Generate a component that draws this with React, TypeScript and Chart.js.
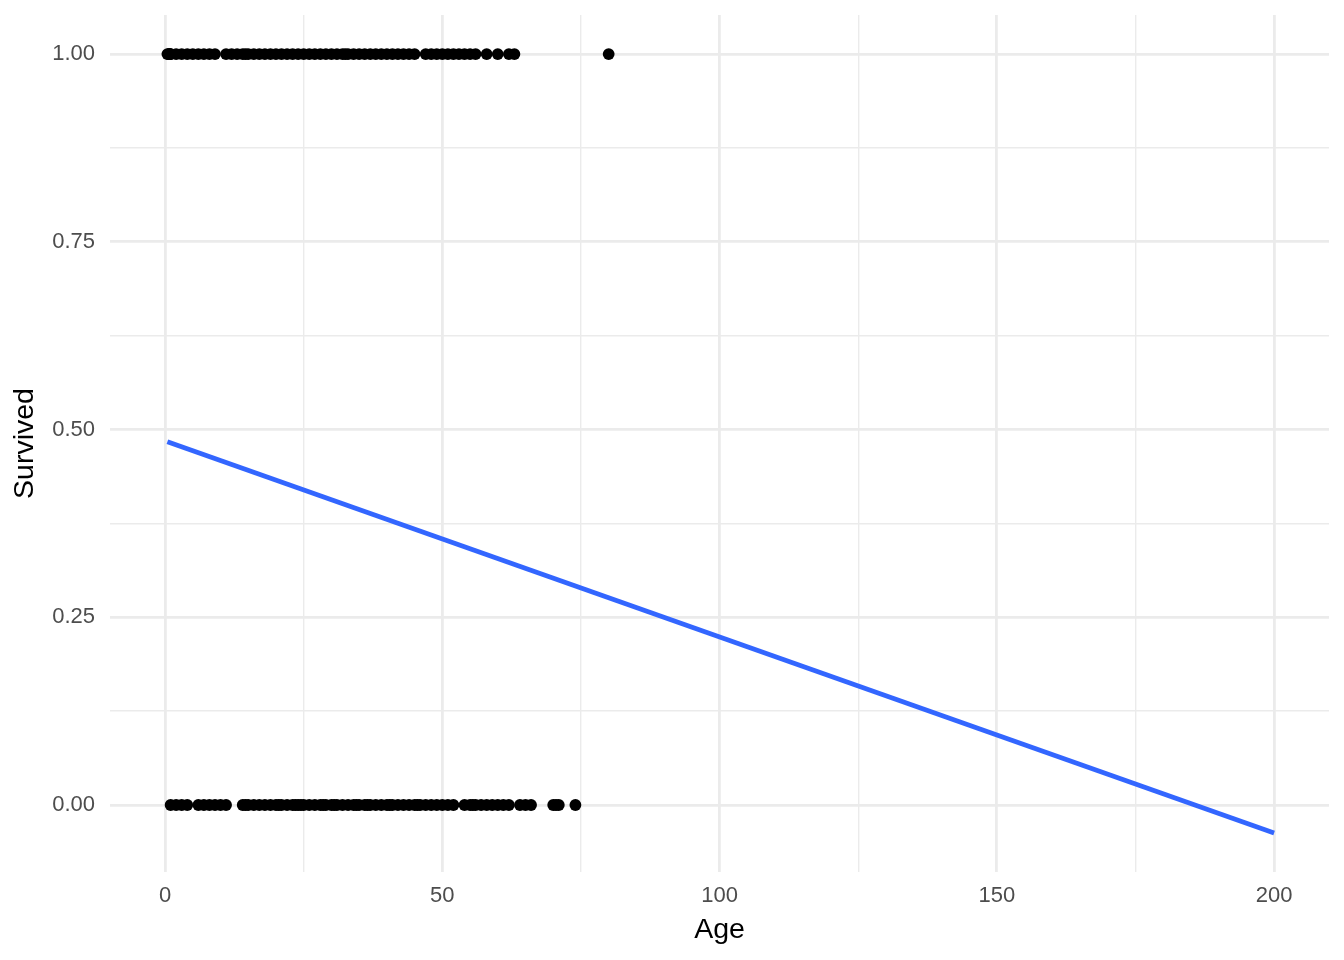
import React, { useEffect, useRef } from "react";
import { Chart, registerables } from "chart.js";

Chart.register(...registerables);

// Ages of passengers who survived (Survived = 1)
const survivedAges: number[] = [
  0.42, 0.67, 0.75, 0.83, 0.92, 1, 2, 3, 4, 5, 6, 7, 8, 9, 11, 12, 13, 14, 14.5, 15, 16, 17, 18, 19,
  20, 21, 22, 23, 24, 25, 26, 27, 28, 29, 30, 31, 32, 32.5, 33, 34, 35, 36, 37, 38, 39, 40, 41, 42,
  43, 44, 45, 47, 48, 49, 50, 51, 52, 53, 54, 55, 56, 58, 60, 62, 63, 80,
];

// Ages of passengers who died (Survived = 0)
const diedAges: number[] = [
  1, 2, 3, 4, 6, 7, 8, 9, 10, 11, 14, 14.5, 15, 16, 17, 18, 19, 20, 20.5, 21, 22, 23, 23.5, 24, 24.5,
  25, 26, 27, 28, 28.5, 29, 30, 30.5, 31, 32, 33, 34, 34.5, 35, 36, 36.5, 37, 38, 39, 40, 40.5, 41,
  42, 43, 44, 45, 45.5, 46, 47, 48, 49, 50, 51, 52, 54, 55, 55.5, 56, 57, 58, 59, 60, 61, 62, 64, 65,
  66, 70, 70.5, 71, 74,
];

// Linear fit line (Survived ~ Age)
const fitAges: number[] = [0.42, 200];
const fitValues: number[] = [0.4836, -0.0373];

const xTicks: number[] = [0, 25, 50, 75, 100, 125, 150, 175, 200];
const yTicks: number[] = [0, 0.125, 0.25, 0.375, 0.5, 0.625, 0.75, 0.875, 1];

const FONT = "'Liberation Sans', Arial, Helvetica, sans-serif";

export default function App() {
  const ref = useRef<HTMLCanvasElement | null>(null);

  useEffect(() => {
    document.body.style.margin = "0";
    if (!ref.current) return;
    const chart = new Chart(ref.current, {
      type: "scatter",
      data: {
        datasets: [
          {
            label: "survived",
            data: survivedAges.map((a) => ({ x: a, y: 1 })),
            backgroundColor: "#000000",
            borderWidth: 0,
            pointRadius: 5.9,
          },
          {
            label: "died",
            data: diedAges.map((a) => ({ x: a, y: 0 })),
            backgroundColor: "#000000",
            borderWidth: 0,
            pointRadius: 5.9,
          },
          {
            type: "line",
            label: "fit",
            data: fitAges.map((a, i) => ({ x: a, y: fitValues[i] })),
            borderColor: "#3366FF",
            borderWidth: 4.8,
            pointRadius: 0,
            fill: false,
            showLine: true,
          } as any,
        ],
      },
      options: {
        responsive: false,
        animation: false,
        layout: { padding: { top: 15, right: 15, left: 0, bottom: 0 } },
        plugins: { legend: { display: false }, tooltip: { enabled: false } },
        scales: {
          x: {
            type: "linear",
            min: -9.93,
            max: 209.9,
            afterBuildTicks: (axis: any) => {
              axis.ticks = xTicks.map((v) => ({ value: v }));
            },
            afterFit: (axis: any) => {
              axis.height = 88;
              axis.paddingLeft = 0;
              axis.paddingRight = 0;
              axis.paddingTop = 0;
              axis.paddingBottom = 0;
            },
            border: { display: false },
            grid: {
              drawTicks: false,
              color: "#EBEBEB",
              lineWidth: (ctx: any) => (ctx.tick && ctx.tick.value % 50 === 0 ? 2.8 : 1.4),
            },
            ticks: {
              padding: 11,
              maxRotation: 0,
              autoSkip: false,
              color: "#4D4D4D",
              font: { family: FONT, size: 22 },
              callback: (v: any) => (Number(v) % 50 === 0 ? String(v) : ""),
            },
            title: {
              display: true,
              text: "Age",
              color: "#000000",
              font: { family: FONT, size: 28.5 },
              padding: { top: 0, bottom: 13 },
            },
          },
          y: {
            type: "linear",
            min: -0.0892,
            max: 1.052,
            afterBuildTicks: (axis: any) => {
              axis.ticks = yTicks.map((v) => ({ value: v }));
            },
            afterFit: (axis: any) => {
              axis.width = 110;
              axis.paddingLeft = 0;
              axis.paddingRight = 0;
              axis.paddingTop = 0;
              axis.paddingBottom = 0;
            },
            border: { display: false },
            grid: {
              drawTicks: false,
              color: "#EBEBEB",
              lineWidth: (ctx: any) =>
                ctx.tick && Math.abs(ctx.tick.value / 0.25 - Math.round(ctx.tick.value / 0.25)) < 1e-6 ? 2.8 : 1.4,
            },
            ticks: {
              padding: 15,
              autoSkip: false,
              color: "#4D4D4D",
              font: { family: FONT, size: 22 },
              callback: (v: any) => {
                const n = Number(v);
                const r = n / 0.25;
                return Math.abs(r - Math.round(r)) < 1e-6 ? n.toFixed(2) : "";
              },
            },
            title: {
              display: true,
              text: "Survived",
              color: "#000000",
              font: { family: FONT, size: 28.5 },
              padding: { top: 8, bottom: 0 },
            },
          },
        },
      },
    });
    return () => chart.destroy();
  }, []);

  return (
    <div style={{ width: 1344, height: 960, background: "#FFFFFF" }}>
      <canvas ref={ref} width={1344} height={960} style={{ display: "block" }} />
    </div>
  );
}
